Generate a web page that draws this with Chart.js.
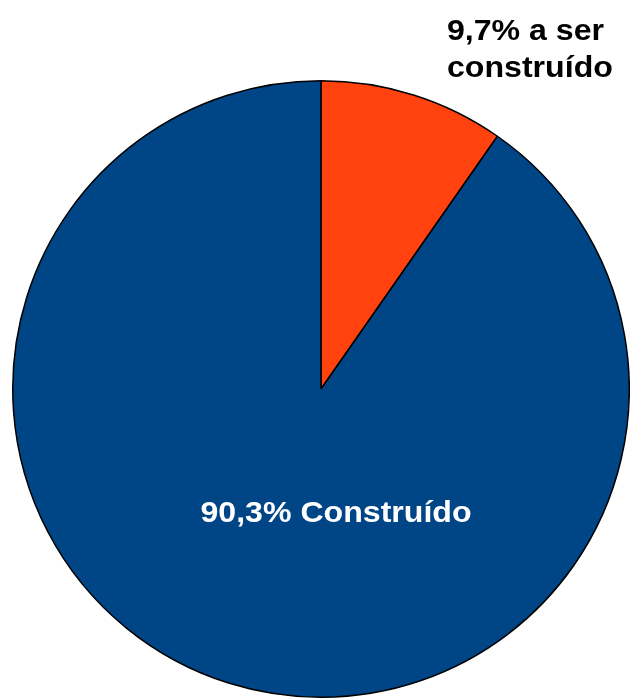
<!DOCTYPE html>
<html>
<head>
<meta charset="utf-8">
<script src="https://cdn.jsdelivr.net/npm/chart.js@4.4.1/dist/chart.umd.min.js"></script>
<style>
  html, body { margin: 0; padding: 0; background: #fff; }
  #chart { display: block; }
</style>
</head>
<body>
<canvas id="chart" width="630" height="698"></canvas>
<script>
// data
const labels = ["9,7% a ser construído", "90,3% Construído"];
const values = [9.7, 90.3];
const colors = ["#FF420E", "#004586"];

// label lines drawn on top of the pie
const labelLines = [["9,7% a ser", "construído"], ["90,3% Construído"]];

// text in the reference is a bit wider than Arial, so stretch it a little
function stretchedText(ctx, text, x, y, align) {
    const sx = 1.07;
    const w = ctx.measureText(text).width * sx;
    let left = x;
    if (align === "center") left = x - w / 2;
    ctx.save();
    ctx.translate(left, y);
    ctx.scale(sx, 1);
    ctx.textAlign = "left";
    ctx.fillText(text, 0, 0);
    ctx.restore();
}

const sliceLabels = {
    id: "sliceLabels",
    afterDatasetsDraw(chart) {
        const ctx = chart.ctx;
        ctx.save();
        ctx.font = "bold 30px 'Liberation Sans', Arial, sans-serif";
        ctx.textBaseline = "alphabetic";

        // small slice: text outside, top right
        ctx.fillStyle = "#000";
        stretchedText(ctx, labelLines[0][0], 447, 40, "left");
        stretchedText(ctx, labelLines[0][1], 447, 77, "left");

        // big slice: white text inside
        ctx.fillStyle = "#fff";
        stretchedText(ctx, labelLines[1][0], 336, 522, "center");
        ctx.restore();
    }
};

new Chart(document.getElementById("chart"), {
    type: "pie",
    data: {
        labels: labels,
        datasets: [{
            data: values,
            backgroundColor: colors,
            borderColor: "#000",
            borderWidth: 1.5,
        }]
    },
    options: {
        responsive: false,
        animation: false,
        layout: { padding: { left: 12, right: 0, top: 80, bottom: 0 } },
        plugins: {
            legend: { display: false },
            tooltip: { enabled: false },
        },
    },
    plugins: [sliceLabels]
});
</script>
</body>
</html>
